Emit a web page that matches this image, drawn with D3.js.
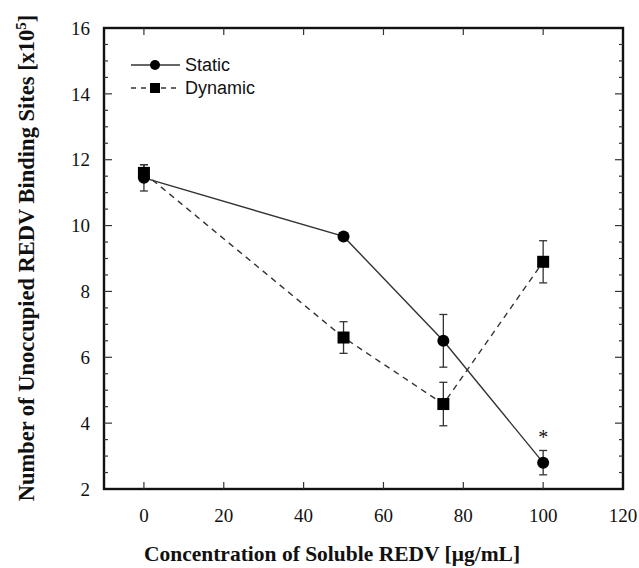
<!DOCTYPE html>
<html>
<head>
<meta charset="utf-8">
<script src="https://cdn.jsdelivr.net/npm/d3@7"></script>
<style>
  body { margin: 0; background: #fff; }
  text { fill: #111; }
</style>
</head>
<body>
<svg id="chart" width="639" height="568"></svg>
<script>
const concentrations = [0, 50, 75, 100];
const staticMean = [11.45, 9.67, 6.5, 2.8];
const staticErr = [0.4, 0.05, 0.8, 0.37];
const dynamicMean = [11.6, 6.6, 4.58, 8.9];
const dynamicErr = [0.25, 0.48, 0.66, 0.64];
const xTicks = [0, 20, 40, 60, 80, 100, 120];
const yTicks = [2, 4, 6, 8, 10, 12, 14, 16];

const margin = { left: 104, top: 28, right: 16, bottom: 79 };
const W = 639, H = 568;

const svg = d3.select('#chart');

const x = d3.scaleLinear().domain([-10, 120]).range([margin.left, W - margin.right]);
const y = d3.scaleLinear().domain([2, 16]).range([H - margin.bottom, margin.top]);

const serif = '"Liberation Serif", "Times New Roman", serif';
const sans = '"Liberation Sans", Arial, sans-serif';

const minorY = d3.range(2, 16.01, 0.5);

// frame
svg.append('rect')
    .attr('x', x(-10)).attr('y', y(16))
    .attr('width', x(120) - x(-10)).attr('height', y(2) - y(16))
    .attr('fill', 'none').attr('stroke', '#111').attr('stroke-width', 2.4);

// ticks, pointing inward
const tickG = svg.append('g').attr('stroke', '#333').attr('stroke-width', 1.2);
xTicks.forEach(v => {
    if (v === 120) return;
    tickG.append('line').attr('x1', x(v)).attr('x2', x(v)).attr('y1', y(2)).attr('y2', y(2) - 7);
    tickG.append('line').attr('x1', x(v)).attr('x2', x(v)).attr('y1', y(16)).attr('y2', y(16) + 7);
});
minorY.forEach(v => {
    if (v === 2 || v === 16) return;
    const len = v % 2 === 0 ? 8 : 4;
    tickG.append('line').attr('x1', x(-10)).attr('x2', x(-10) + len).attr('y1', y(v)).attr('y2', y(v));
    tickG.append('line').attr('x1', x(120)).attr('x2', x(120) - len).attr('y1', y(v)).attr('y2', y(v));
});

// tick labels
svg.append('g').selectAll('text').data(xTicks).join('text')
    .attr('x', d => x(d)).attr('y', y(2) + 33)
    .attr('text-anchor', 'middle')
    .style('font-family', serif).style('font-size', '19px')
    .text(d => d);

svg.append('g').selectAll('text').data(yTicks).join('text')
    .attr('x', x(-10) - 14).attr('y', d => y(d)).attr('dy', '0.35em')
    .attr('text-anchor', 'end')
    .style('font-family', serif).style('font-size', '19px')
    .text(d => d);

// axis titles
svg.append('text')
    .attr('x', 332).attr('y', H - 7)
    .attr('text-anchor', 'middle')
    .style('font-family', serif).style('font-size', '21.5px').style('font-weight', 'bold')
    .text('Concentration of Soluble REDV [\u03bcg/mL]');

const yl = svg.append('text')
    .attr('transform', `translate(34, 258) rotate(-90)`)
    .attr('text-anchor', 'middle')
    .style('font-family', serif).style('font-size', '22.5px').style('font-weight', 'bold');
yl.append('tspan').text('Number of Unoccupied REDV Binding Sites [x10');
yl.append('tspan').attr('baseline-shift', 'super').style('font-size', '15px').text('5');
yl.append('tspan').text(']');

// lines
const staticPts = concentrations.map((c, i) => [c, staticMean[i], staticErr[i]]);
const dynamicPts = concentrations.map((c, i) => [c, dynamicMean[i], dynamicErr[i]]);
const line = d3.line().x(d => x(d[0])).y(d => y(d[1]));

svg.append('path').datum(dynamicPts).attr('d', line)
    .attr('fill', 'none').attr('stroke', '#333').attr('stroke-width', 1.4)
    .attr('stroke-dasharray', '6,5');
svg.append('path').datum(staticPts).attr('d', line)
    .attr('fill', 'none').attr('stroke', '#333').attr('stroke-width', 1.4);

// error bars
function errorBars(pts) {
    const g = svg.append('g').attr('stroke', '#333').attr('stroke-width', 1.3);
    pts.forEach(d => {
        const cx = x(d[0]);
        const top = y(d[1] + d[2]), bot = y(d[1] - d[2]);
        g.append('line').attr('x1', cx).attr('x2', cx).attr('y1', top).attr('y2', bot);
        g.append('line').attr('x1', cx - 4).attr('x2', cx + 4).attr('y1', top).attr('y2', top);
        g.append('line').attr('x1', cx - 4).attr('x2', cx + 4).attr('y1', bot).attr('y2', bot);
    });
}
errorBars(staticPts);
errorBars(dynamicPts);

// markers
svg.append('g').selectAll('rect').data(dynamicPts).join('rect')
    .attr('x', d => x(d[0]) - 6).attr('y', d => y(d[1]) - 6)
    .attr('width', 12).attr('height', 12).attr('fill', '#000');
svg.append('g').selectAll('circle').data(staticPts).join('circle')
    .attr('cx', d => x(d[0])).attr('cy', d => y(d[1])).attr('r', 6).attr('fill', '#000');

// significance mark
svg.append('text')
    .attr('x', x(100)).attr('y', y(2.8 + 0.37) - 6)
    .attr('text-anchor', 'middle')
    .style('font-family', serif).style('font-size', '20px')
    .text('*');

// legend
const lg = svg.append('g');
lg.append('line').attr('x1', 131).attr('x2', 180).attr('y1', 65).attr('y2', 65)
    .attr('stroke', '#333').attr('stroke-width', 1.4);
lg.append('circle').attr('cx', 155).attr('cy', 65).attr('r', 5).attr('fill', '#000');
lg.append('line').attr('x1', 131).attr('x2', 180).attr('y1', 88).attr('y2', 88)
    .attr('stroke', '#333').attr('stroke-width', 1.4).attr('stroke-dasharray', '5,5');
lg.append('rect').attr('x', 150).attr('y', 83).attr('width', 10).attr('height', 10).attr('fill', '#000');
lg.append('text').attr('x', 185).attr('y', 65).attr('dy', '0.35em')
    .style('font-family', sans).style('font-size', '18px').text('Static');
lg.append('text').attr('x', 185).attr('y', 88).attr('dy', '0.35em')
    .style('font-family', sans).style('font-size', '18px').text('Dynamic');
</script>
</body>
</html>
